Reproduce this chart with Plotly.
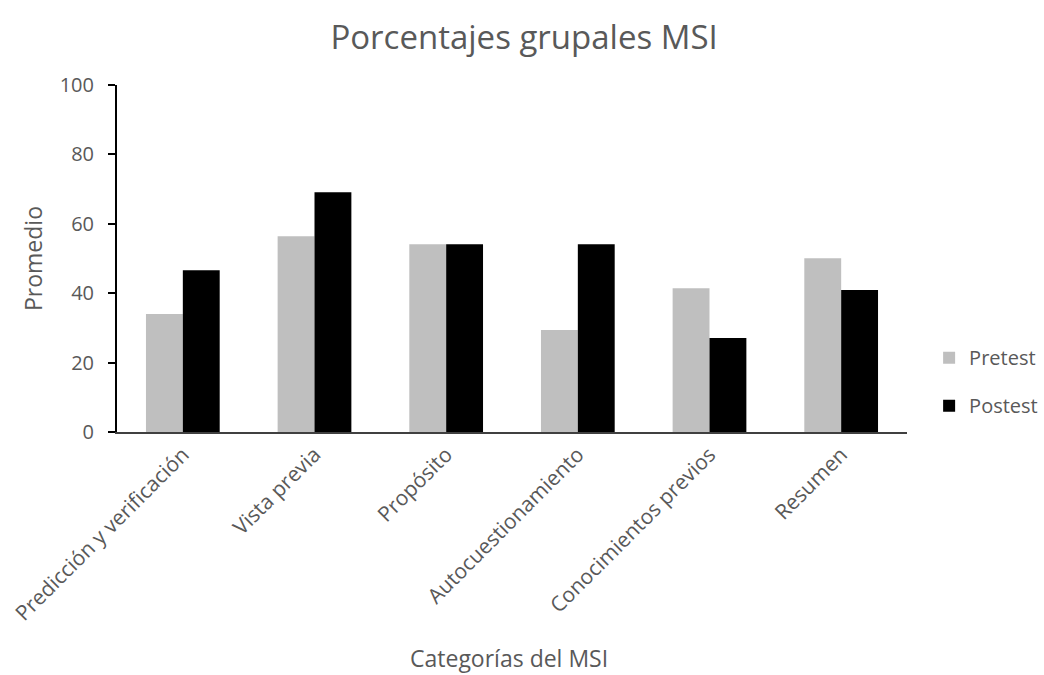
import plotly.graph_objects as go

categorias = ["Predicción y verificación", "Vista previa", "Propósito",
              "Autocuestionamiento", "Conocimientos previos", "Resumen"]
pretest = [34.0, 56.4, 54.1, 29.4, 41.4, 50.1]
postest = [46.6, 69.1, 54.1, 54.1, 27.1, 40.9]

FONT = "'Open Sans', sans-serif"
GRIS = "#595959"

fig = go.Figure()
fig.add_trace(go.Bar(x=categorias, y=pretest, name="Pretest",
                     marker=dict(color="#bfbfbf", line=dict(width=0)),
                     legendgroup="a"))
fig.add_trace(go.Bar(x=categorias, y=postest, name="Postest",
                     marker=dict(color="#000000", line=dict(width=0)),
                     legendgroup="b"))

fig.update_layout(
    width=1044, height=675,
    margin=dict(l=117, r=137, t=85, b=243, autoexpand=False),
    paper_bgcolor="white", plot_bgcolor="white",
    barmode="group", bargap=0.44, bargroupgap=0,
    font=dict(family=FONT, color=GRIS, size=20),
    title=dict(text="Porcentajes grupales MSI", x=0.502, xanchor="center",
               y=0.945, yanchor="middle",
               font=dict(size=33, color=GRIS, family=FONT)),
    legend=dict(x=1.028, xanchor="left", y=0.145, yanchor="middle",
                font=dict(size=20, color=GRIS), tracegroupgap=19,
                itemwidth=30, bgcolor="rgba(0,0,0,0)"),
    showlegend=True,
)

# x-axis title placed as a paper annotation so it can sit near the bottom edge
fig.add_annotation(text="Categorías del MSI", xref="paper", yref="paper",
                   x=0.496, y=-0.652, xanchor="center", yanchor="middle",
                   showarrow=False, font=dict(size=23, color=GRIS, family=FONT))

fig.update_xaxes(
    tickangle=-45, tickfont=dict(size=21, color=GRIS),
    showline=True, linecolor="#404040", linewidth=2,
    ticks="", showgrid=False, zeroline=False, automargin=False,
)
fig.update_yaxes(
    title=dict(text="Promedio", font=dict(size=23, color=GRIS), standoff=11),
    range=[0, 100], dtick=20, tickfont=dict(size=20, color=GRIS),
    ticklabelstandoff=10,
    showline=True, linecolor="black", linewidth=2,
    ticks="outside", ticklen=7, tickcolor="black", tickwidth=2,
    showgrid=False, zeroline=False, automargin=False,
)

fig.write_html("out.html")
